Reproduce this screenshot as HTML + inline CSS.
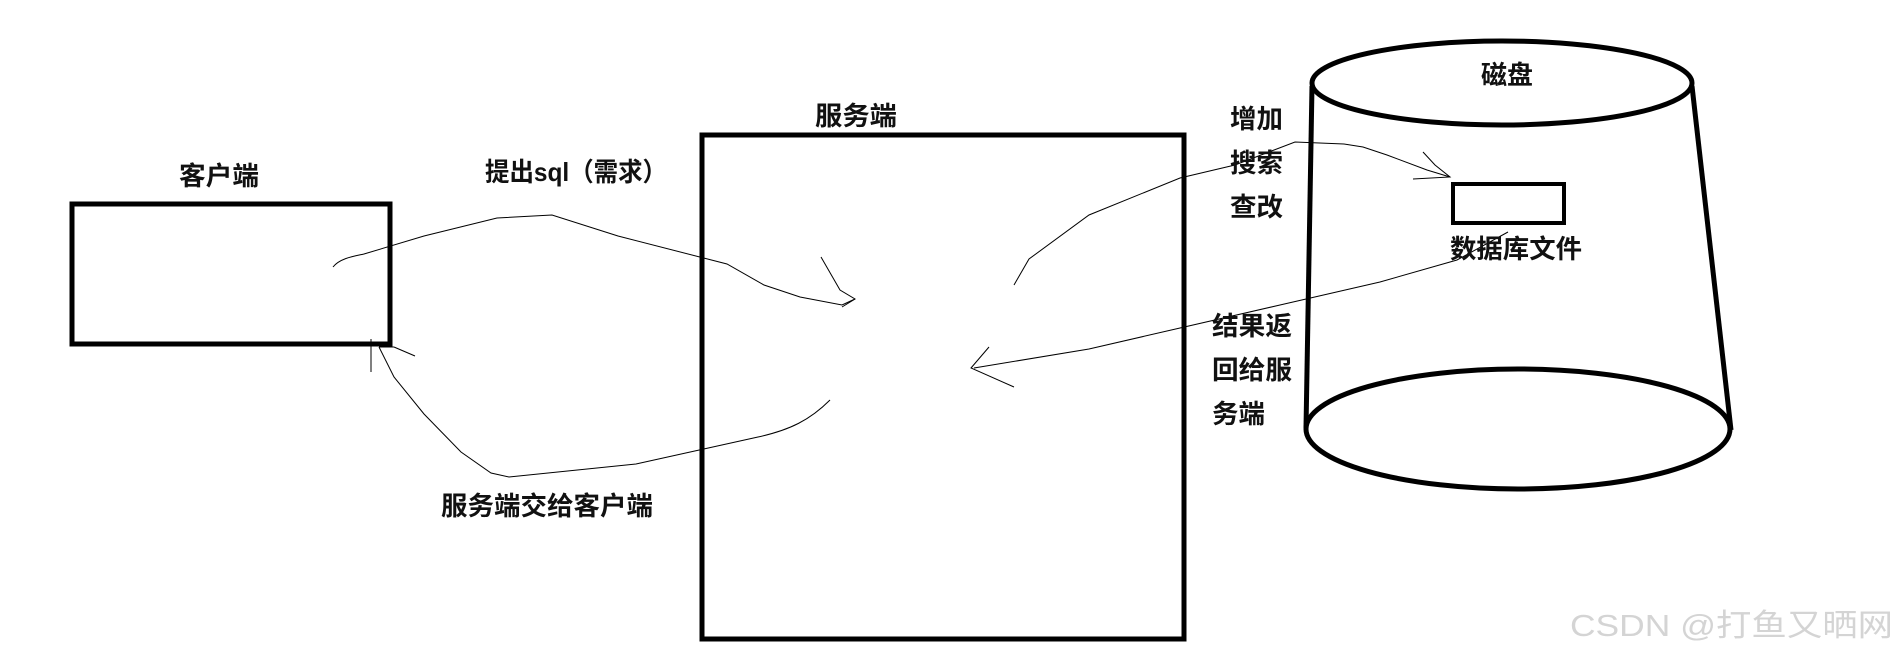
<!DOCTYPE html>
<html><head><meta charset="utf-8"><style>
html,body{margin:0;padding:0;background:#fff;}
svg{display:block;}
text{font-family:"Liberation Sans","Noto Sans CJK SC",sans-serif;font-weight:bold;fill:#111;font-size:26px;}
</style></head><body>
<svg width="1900" height="656" viewBox="0 0 1900 656" xmlns="http://www.w3.org/2000/svg">
<g fill="none" stroke="#000" stroke-width="5">
<rect x="72" y="204" width="318" height="140"/>
<rect x="702" y="135" width="482" height="504"/>
<ellipse cx="1502" cy="83" rx="190" ry="42"/>
<ellipse cx="1518" cy="429" rx="212" ry="60"/>
<line x1="1312" y1="86" x2="1306" y2="428"/>
<line x1="1692" y1="86" x2="1731" y2="430"/>
<rect x="1453" y="184" width="111" height="39" stroke-width="4"/>
</g>
<g fill="none" stroke="#000" stroke-width="1">
<path d="M333,267 C340,258 355,256 364,254 L424,236 L497,218 L552,215 L618,236 L727,264 L764,285 L800,297 L842,305 L855,299"/>
<path d="M821,257 L840,290 L855,299 L842,307"/>
<path d="M830,400 C810,420 790,430 758,437 L636,464 L509,477 L491,473 L461,452 L424,414 L394,377 L379,347"/>
<path d="M371,339 L371,372 M379,347 L394,347 M394,347 L415,356"/>
<path d="M1014,285 L1029,259 L1089,215 L1180,178 L1235,165 L1295,142 L1344,144 L1363,147 L1387,155 L1427,170 L1450,177"/>
<path d="M1423,152 L1435,165 L1450,177 L1413,179"/>
<path d="M1508,232 L1457,260 L1380,282 L1280,305 L1180,328 L1089,349 L974,368"/>
<path d="M989,347 L971,368 L1014,387"/>
</g>
<text x="179" y="185" textLength="80" lengthAdjust="spacingAndGlyphs">客户端</text>
<text x="485" y="181" textLength="182" lengthAdjust="spacingAndGlyphs">提出sql（需求）</text>
<text x="815" y="125" textLength="82" lengthAdjust="spacingAndGlyphs">服务端</text>
<text x="441" y="515" textLength="212" lengthAdjust="spacingAndGlyphs">服务端交给客户端</text>
<text x="1481" y="84" textLength="52" lengthAdjust="spacingAndGlyphs">磁盘</text>
<text x="1450" y="258" textLength="132" lengthAdjust="spacingAndGlyphs">数据库文件</text>
<text x="1230" y="128" textLength="53" lengthAdjust="spacingAndGlyphs">增加</text>
<text x="1230" y="172" textLength="53" lengthAdjust="spacingAndGlyphs">搜索</text>
<text x="1230" y="216" textLength="53" lengthAdjust="spacingAndGlyphs">查改</text>
<text x="1212" y="335" textLength="80" lengthAdjust="spacingAndGlyphs">结果返</text>
<text x="1212" y="379" textLength="80" lengthAdjust="spacingAndGlyphs">回给服</text>
<text x="1212" y="423" textLength="53" lengthAdjust="spacingAndGlyphs">务端</text>
<text x="1570" y="636" textLength="323" lengthAdjust="spacingAndGlyphs" style="font-weight:normal;fill:#d4d4d4;font-size:31px;">CSDN @打鱼又晒网</text>
</svg>
</body></html>
